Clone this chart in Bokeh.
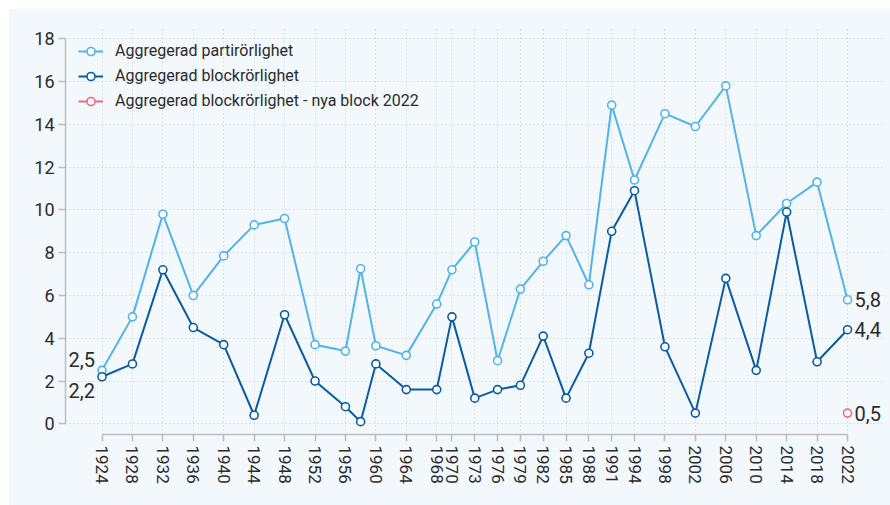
from bokeh.plotting import figure
from bokeh.models import ColumnDataSource, FixedTicker, Range1d
from bokeh.embed import file_html
from bokeh.resources import INLINE
from bokeh.core.properties import value

years = [1924, 1928, 1932, 1936, 1940, 1944, 1948, 1952, 1956, 1958, 1960, 1964, 1968,
         1970, 1973, 1976, 1979, 1982, 1985, 1988, 1991, 1994, 1998, 2002, 2006, 2010,
         2014, 2018, 2022]
party = [2.5, 5.0, 9.8, 6.0, 7.85, 9.3, 9.6, 3.7, 3.4, 7.25, 3.65, 3.2, 5.6,
         7.2, 8.5, 2.95, 6.3, 7.6, 8.8, 6.5, 14.9, 11.4, 14.5, 13.9, 15.8, 8.8,
         10.3, 11.3, 5.8]
block = [2.2, 2.8, 7.2, 4.5, 3.7, 0.4, 5.1, 2.0, 0.8, 0.1, 2.8, 1.6, 1.6,
         5.0, 1.2, 1.6, 1.8, 4.1, 1.2, 3.3, 9.0, 10.9, 3.6, 0.5, 6.8, 2.5,
         9.9, 2.9, 4.4]
new_block_years = [2022]
new_block = [0.5]
tick_years = [1924, 1928, 1932, 1936, 1940, 1944, 1948, 1952, 1956, 1960, 1964, 1968,
              1970, 1973, 1976, 1979, 1982, 1985, 1988, 1991, 1994, 1998, 2002, 2006,
              2010, 2014, 2018, 2022]
y_ticks = [0, 2, 4, 6, 8, 10, 12, 14, 16, 18]
names = ["Aggregerad partirörlighet", "Aggregerad blockrörlighet",
         "Aggregerad blockrörlighet - nya block 2022"]

C_PARTY = "#52b4e6"
C_BLOCK = "#0b5c9f"
C_NEW = "#ea6a80"
BG = "#f2f8fc"
TXT = "#2b2b2b"
FONT = "Roboto"


def fmt(v):
    return f"{v:.1f}".replace(".", ",")


p = figure(width=882, height=497, output_backend="svg", toolbar_location=None,
           x_range=Range1d(1919.2, 2026.6), y_range=Range1d(-0.5, 18.53),
           min_border_left=57, min_border_right=8, min_border_top=19, min_border_bottom=71)
p.margin = (8, 0, 0, 8)
p.background_fill_color = BG
p.border_fill_color = BG
p.outline_line_color = None

src_p = ColumnDataSource(dict(x=years, y=party))
src_b = ColumnDataSource(dict(x=years, y=block))
src_n = ColumnDataSource(dict(x=new_block_years, y=new_block))

p.line("x", "y", source=src_p, line_color=C_PARTY, line_width=2, legend_label=names[0])
p.scatter("x", "y", source=src_p, size=8, fill_color="white", line_color=C_PARTY,
          line_width=1.6, legend_label=names[0])
p.line("x", "y", source=src_b, line_color=C_BLOCK, line_width=2, legend_label=names[1])
p.scatter("x", "y", source=src_b, size=8, fill_color="white", line_color=C_BLOCK,
          line_width=1.6, legend_label=names[1])
p.line("x", "y", source=src_n, line_color=C_NEW, line_width=2, legend_label=names[2])
p.scatter("x", "y", source=src_n, size=8, fill_color="white", line_color=C_NEW,
          line_width=1.6, legend_label=names[2])

# value labels
left_src = ColumnDataSource(dict(x=[years[0], years[0]], y=[party[0], block[0]],
                                 t=[fmt(party[0]), fmt(block[0])], yo=[-11, 14]))
p.text("x", "y", text="t", source=left_src, x_offset=-7, y_offset="yo",
       text_align="right", text_baseline="middle", text_font=value(FONT),
       text_font_size="20px", text_color=TXT)
right_src = ColumnDataSource(dict(x=[years[-1], years[-1], new_block_years[0]],
                                  y=[party[-1], block[-1], new_block[0]],
                                  t=[fmt(party[-1]), fmt(block[-1]), fmt(new_block[0])]))
p.text("x", "y", text="t", source=right_src, x_offset=7, y_offset=0,
       text_align="left", text_baseline="middle", text_font=value(FONT),
       text_font_size="20px", text_color=TXT)

# axes
p.xaxis.ticker = FixedTicker(ticks=tick_years)
p.yaxis.ticker = FixedTicker(ticks=y_ticks)
p.xaxis.bounds = (tick_years[0], tick_years[-1])
p.yaxis.bounds = (y_ticks[0], y_ticks[-1])
for ax in (p.xaxis, p.yaxis):
    ax.axis_line_color = "#bdbdbd"
    ax.axis_line_width = 1.5
    ax.major_tick_line_color = "#bdbdbd"
    ax.major_tick_line_width = 1.5
    ax.major_tick_in = 0
    ax.major_tick_out = 7
    ax.minor_tick_line_color = None
    ax.major_label_text_font = FONT
    ax.major_label_text_color = TXT
p.xaxis.major_label_orientation = "vertical"
p.xaxis.major_label_text_font_size = "17px"
p.xaxis.major_label_standoff = 4
p.yaxis.major_label_text_font_size = "18px"
p.yaxis.major_label_standoff = 4

p.xgrid.ticker = FixedTicker(ticks=tick_years)
p.ygrid.ticker = FixedTicker(ticks=y_ticks)
for g in (p.xgrid, p.ygrid):
    g.grid_line_color = "#c6cbd0"
    g.grid_line_dash = "1 3"
    g.grid_line_width = 1

lg = p.legend[0]
lg.location = "top_left"
lg.margin = 0
lg.padding = 13
lg.spacing = 4
lg.glyph_width = 25
lg.label_height = 21
lg.label_standoff = 12
lg.background_fill_alpha = 0
lg.border_line_alpha = 0
lg.label_text_font = FONT
lg.label_text_font_size = "16px"
lg.label_text_color = TXT

open("out.html", "w").write(file_html(p, INLINE))
